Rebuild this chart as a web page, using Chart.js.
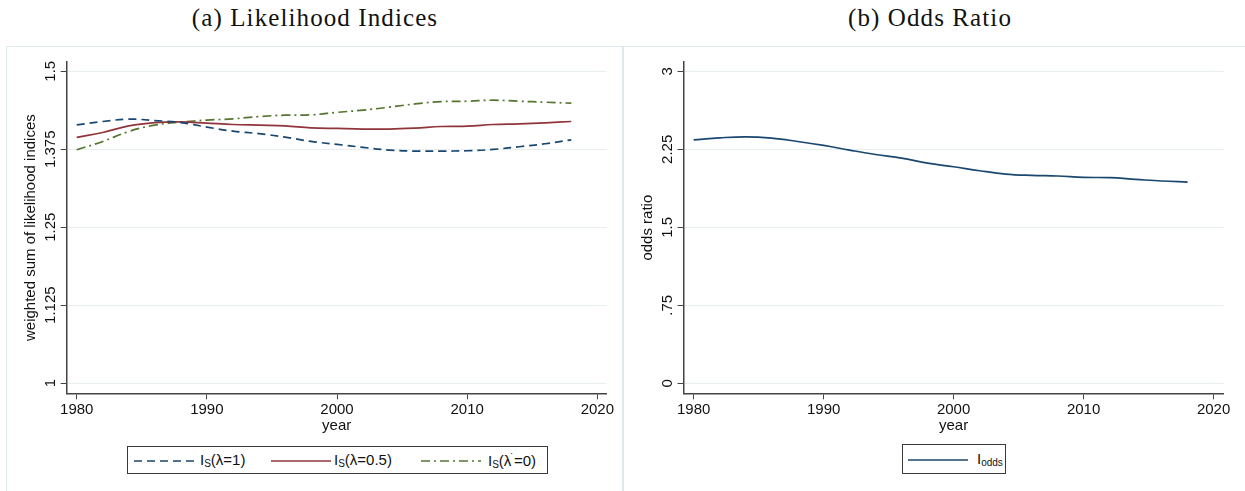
<!DOCTYPE html>
<html>
<head>
<meta charset="utf-8">
<script src="https://cdn.jsdelivr.net/npm/chart.js@4.4.1/dist/chart.umd.min.js"></script>
<style>
body { margin: 0; width: 1245px; height: 491px; background: #fff; position: relative; overflow: hidden; font-family: "Liberation Sans", Arial, sans-serif; }
.panel { position: absolute; top: 46px; height: 470px; border: 1px solid #dfe9ec; box-sizing: border-box; }
.title { position: absolute; top: 4px; font-family: "Liberation Serif", serif; font-size: 25px; letter-spacing: 1.1px; color: #111; transform: translateX(-50%); white-space: nowrap; }
canvas { position: absolute; top: 0; }
.legend { position: absolute; border: 1px solid #3a3a3a; box-sizing: border-box; }
.item { position: absolute; top: 4px; font-size: 15px; color: #111; white-space: nowrap; }
.item sub { font-size: 10px; vertical-align: -2px; }
.item sup { font-size: 11px; vertical-align: 5px; margin-left: -1px; }
svg { position: absolute; top: 12px; }
</style>
</head>
<body>
<div class="panel" style="left:6px; width:617px;"></div>
<div class="panel" style="left:623px; width:630px;"></div>
<div class="title" style="left:315px;">(a) Likelihood Indices</div>
<div class="title" style="left:930px;">(b) Odds Ratio</div>

<canvas id="left" width="640" height="440" style="left:0; width:640px; height:440px;"></canvas>
<canvas id="right" width="625" height="440" style="left:620px; width:625px; height:440px;"></canvas>

<div class="legend" style="left:127px; top:446px; width:421px; height:28px;">
  <svg width="60" height="4" style="left:6px;"><line x1="0" y1="2" x2="60" y2="2" stroke="#1a476f" stroke-width="1.5" stroke-dasharray="8,5"/></svg>
  <span class="item" style="left:72px;">I<sub>S</sub>(λ=1)</span>
  <svg width="60" height="4" style="left:143px;"><line x1="0" y1="2" x2="60" y2="2" stroke="#90353b" stroke-width="1.5"/></svg>
  <span class="item" style="left:206px;">I<sub>S</sub>(λ=0.5)</span>
  <svg width="60" height="4" style="left:293px;"><line x1="0" y1="2" x2="60" y2="2" stroke="#55752f" stroke-width="1.5" stroke-dasharray="9,4,2,4"/></svg>
  <span class="item" style="left:360px;">I<sub>S</sub>(λ<sup>˙</sup>=0)</span>
</div>
<div class="legend" style="left:902px; top:444px; width:104px; height:30px;">
  <svg width="60" height="4" style="left:5px; top:13px;"><line x1="0" y1="2" x2="60" y2="2" stroke="#1a476f" stroke-width="1.5"/></svg>
  <span class="item" style="left:74px; top:5px;">I<sub>odds</sub></span>
</div>

<script>
const years = [1980, 1982, 1984, 1986, 1988, 1990, 1992, 1994, 1996, 1998,
               2000, 2002, 2004, 2006, 2008, 2010, 2012, 2014, 2016, 2018];

const likLambda1 = [1.414, 1.4195, 1.4233, 1.421, 1.4178, 1.4105, 1.404, 1.400, 1.3945, 1.3875,
                    1.3828, 1.378, 1.3737, 1.372, 1.372, 1.3726, 1.3747, 1.379, 1.3838, 1.390];
const likLambda05 = [1.3939, 1.4019, 1.4125, 1.4178, 1.419, 1.4169, 1.4147, 1.4136, 1.4126, 1.4094,
                     1.4083, 1.4073, 1.4073, 1.4089, 1.4115, 1.412, 1.4147, 1.4158, 1.4174, 1.4195];
const likLambda0 = [1.3742, 1.3875, 1.4035, 1.4137, 1.4185, 1.4217, 1.4238, 1.4274, 1.4296, 1.4301,
                    1.4341, 1.4377, 1.4424, 1.4477, 1.4514, 1.452, 1.4536, 1.452, 1.4504, 1.4488];
const oddsRatio = [2.341, 2.360, 2.370, 2.357, 2.325, 2.287, 2.242, 2.200, 2.165, 2.117,
                   2.082, 2.044, 2.012, 1.999, 1.993, 1.980, 1.977, 1.961, 1.945, 1.935];

const xTicks = [1980, 1990, 2000, 2010, 2020];
const likTicks = [1, 1.125, 1.25, 1.375, 1.5];
const likTickLabels = ['1', '1.125', '1.25', '1.375', '1.5'];
const oddsTicks = [0, 0.75, 1.5, 2.25, 3];
const oddsTickLabels = ['0', '.75', '1.5', '2.25', '3'];

const FONT = '"Liberation Sans", Arial, sans-serif';

// Stata-style vertical tick labels on the y axis
const yLabelPlugin = {
  id: 'yLabels',
  afterDraw(chart, args, opts) {
    const s = chart.scales.y;
    const ctx = chart.ctx;
    ctx.save();
    ctx.font = '15px ' + FONT;
    ctx.fillStyle = '#111';
    ctx.textAlign = 'center';
    ctx.textBaseline = 'alphabetic';
    s.ticks.forEach((t, i) => {
      ctx.save();
      ctx.translate(chart.chartArea.left - 12, s.getPixelForValue(t.value));
      ctx.rotate(-Math.PI / 2);
      ctx.fillText(opts.labels[i], 0, 0);
      ctx.restore();
    });
    ctx.restore();
  }
};

function series(data) {
  return data.map((v, i) => ({ x: years[i], y: v }));
}

function makeChart(id, datasets, o) {
  new Chart(document.getElementById(id), {
    type: 'line',
    data: { datasets: datasets },
    plugins: [yLabelPlugin],
    options: {
      responsive: false,
      animation: false,
      devicePixelRatio: 1,
      layout: { padding: { top: 62, left: 0, right: o.padRight, bottom: 0 } },
      plugins: {
        legend: { display: false },
        tooltip: { enabled: false },
        yLabels: { labels: o.yLabels }
      },
      elements: { point: { radius: 0 }, line: { borderWidth: 1.7, tension: 0.4 } },
      scales: {
        x: {
          type: 'linear',
          min: o.xMin, max: o.xMax,
          afterBuildTicks: s => { s.ticks = xTicks.map(v => ({ value: v })); },
          afterFit: s => { s.height = 46.7; },
          ticks: { color: '#111', padding: 2, font: { size: 15, family: FONT }, maxRotation: 0, callback: v => String(v) },
          grid: { drawOnChartArea: false, tickColor: '#444', tickLength: 6, tickWidth: 1 },
          border: { color: '#444', width: 1.5 },
          title: { display: true, text: 'year', color: '#111', font: { size: 15, family: FONT }, padding: { top: 0, bottom: 5 } }
        },
        y: {
          type: 'linear',
          min: o.yMin, max: o.yMax,
          afterBuildTicks: s => { s.ticks = o.yTicks.map(v => ({ value: v })); },
          afterFit: s => { s.width = o.axisX; },
          ticks: { display: false },
          grid: { color: '#e6eef0', lineWidth: 1, tickColor: '#444', tickLength: 6 },
          border: { color: '#444', width: 1.5 },
          title: { display: true, text: o.yTitle, color: '#111', font: { size: 15, family: FONT }, padding: { top: o.titlePad, bottom: 0 } }
        }
      }
    }
  });
}

makeChart('left', [
  { data: series(likLambda1), borderColor: '#1a476f', borderDash: [8, 5] },
  { data: series(likLambda05), borderColor: '#90353b' },
  { data: series(likLambda0), borderColor: '#55752f', borderDash: [9, 4, 2, 4] }
], {
  xMin: 1979.23, xMax: 2020.72,
  yMin: 0.9836, yMax: 1.5149,
  yTicks: likTicks, yLabels: likTickLabels,
  yTitle: 'weighted sum of likelihood indices',
  axisX: 66.7, titlePad: 22, padRight: 33.3
});

makeChart('right', [
  { data: series(oddsRatio), borderColor: '#1a476f' }
], {
  xMin: 1979.22, xMax: 2020.77,
  yMin: -0.0958, yMax: 3.0892,
  yTicks: oddsTicks, yLabels: oddsTickLabels,
  yTitle: 'odds ratio',
  axisX: 63.5, titlePad: 19, padRight: 21.4
});
</script>
</body>
</html>
